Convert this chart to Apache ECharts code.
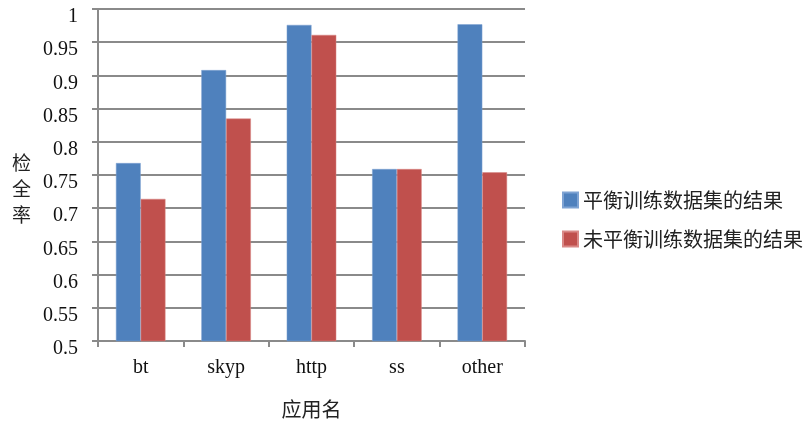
<!DOCTYPE html>
<html>
<head>
<meta charset="utf-8">
<script src="https://cdn.jsdelivr.net/npm/echarts@6/dist/echarts.min.js"></script>
<style>
  html, body { margin: 0; padding: 0; background: #fff; }
  #chart { width: 804px; height: 424px; }
</style>
</head>
<body>
<div id="chart"></div>
<script>
// Application categories
const categories = ['bt', 'skyp', 'http', 'ss', 'other'];
// Recall with the balanced training set
const balanced = [0.768, 0.908, 0.976, 0.759, 0.977];
// Recall with the unbalanced training set
const unbalanced = [0.714, 0.835, 0.961, 0.759, 0.754];
// Series names shown in the legend
const seriesNames = ['平衡训练数据集的结果', '未平衡训练数据集的结果'];
// Axis titles
const xTitle = '应用名';
const yTitle = '检全率';
// Value axis range
const yMin = 0.5, yMax = 1, yStep = 0.05;

const serif = '"Liberation Serif", "Times New Roman", serif';
const cjk = '"Noto Sans CJK SC", sans-serif';
const gridColor = '#8a8a8a';

const chart = echarts.init(document.getElementById('chart'));
chart.setOption({
  animation: false,
  backgroundColor: '#ffffff',
  grid: { left: 98, right: 279, top: 9, bottom: 82, containLabel: false },
  graphic: [{
    type: 'text',
    left: 12,
    top: 150,
    style: {
      text: yTitle.split('').join('\n'),
      font: '19px ' + cjk,
      lineHeight: 26,
      fill: '#222'
    }
  }],
  legend: {
    orient: 'vertical',
    left: 557,
    top: 185,
    icon: 'rect',
    itemWidth: 15,
    itemHeight: 15,
    itemGap: 19,
    textStyle: { fontFamily: cjk, fontSize: 20, color: '#222' },
    data: seriesNames
  },
  xAxis: {
    type: 'category',
    data: categories,
    name: xTitle,
    nameLocation: 'middle',
    nameGap: 58,
    nameTextStyle: { fontFamily: cjk, fontSize: 20, color: '#222' },
    axisLine: { lineStyle: { color: gridColor, width: 2 } },
    axisTick: { show: true, length: 6, lineStyle: { color: gridColor, width: 2 } },
    axisLabel: { fontFamily: serif, fontSize: 20, color: '#111', margin: 17 }
  },
  yAxis: {
    type: 'value',
    min: yMin,
    max: yMax,
    interval: yStep,
    axisLine: { show: true, lineStyle: { color: gridColor, width: 2 } },
    axisTick: { show: true, length: 6, lineStyle: { color: gridColor, width: 2 } },
    axisLabel: {
      fontFamily: serif, fontSize: 20, color: '#111', margin: 20,
      verticalAlign: 'top',
      lineHeight: 16,
      formatter: v => String(Math.round(v * 100) / 100)
    },
    splitLine: { show: true, lineStyle: { color: gridColor, width: 2 } }
  },
  series: [
    {
      name: seriesNames[0],
      type: 'bar',
      data: balanced,
      barGap: '0%',
      barCategoryGap: '42%',
      itemStyle: { color: '#4f81bd', borderColor: '#7ea3d3', borderWidth: 0.5 }
    },
    {
      name: seriesNames[1],
      type: 'bar',
      data: unbalanced,
      itemStyle: { color: '#c0504d', borderColor: '#d98987', borderWidth: 0.5 }
    }
  ]
});
</script>
</body>
</html>
